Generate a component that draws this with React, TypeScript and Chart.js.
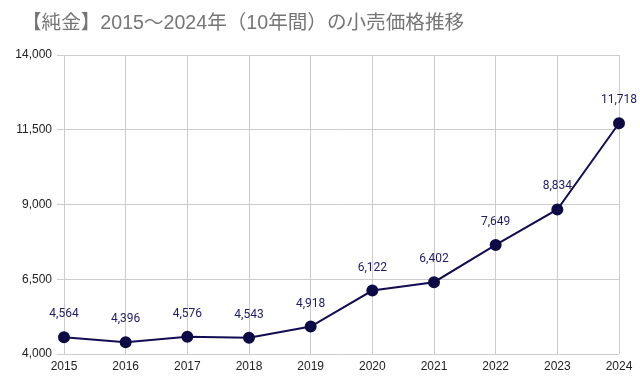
import React, { useEffect, useRef } from "react";
import { Chart, registerables } from "chart.js";

Chart.register(...registerables);

const categories = ["2015", "2016", "2017", "2018", "2019", "2020", "2021", "2022", "2023", "2024"];
const prices = [4564, 4396, 4576, 4543, 4918, 6122, 6402, 7649, 8834, 11718];
const yTicks = [4000, 6500, 9000, 11500, 14000];
const titleText = "【純金】2015～2024年（10年間）の小売価格推移";

const fmt = (v: number) => v.toLocaleString("en-US");

const labelPlugin = {
  id: "pointLabels",
  afterDatasetsDraw(chart: any) {
    const ctx = chart.ctx;
    const meta = chart.getDatasetMeta(0);
    ctx.save();
    ctx.font = "12px Roboto, 'Liberation Sans', sans-serif";
    ctx.fillStyle = "#1f1a66";
    ctx.textAlign = "center";
    ctx.textBaseline = "middle";
    meta.data.forEach((pt: any, i: number) => {
      ctx.fillText(fmt(prices[i]), pt.x, pt.y - 23);
    });
    ctx.restore();
  },
};

const titlePlugin = {
  id: "leftTitle",
  afterDraw(chart: any) {
    const ctx = chart.ctx;
    ctx.save();
    ctx.font = "19.6px 'Liberation Sans', 'Noto Sans CJK JP', sans-serif";
    ctx.fillStyle = "#757575";
    ctx.textAlign = "left";
    ctx.textBaseline = "middle";
    ctx.fillText(titleText, 22, 24);
    ctx.restore();
  },
};

export default function App() {
  const ref = useRef<HTMLCanvasElement>(null);
  useEffect(() => {
    if (!ref.current) return;
    const chart = new Chart(ref.current, {
      type: "line",
      data: {
        labels: categories,
        datasets: [
          {
            data: prices,
            borderColor: "#120d52",
            backgroundColor: "#120d52",
            borderWidth: 2,
            pointRadius: 5,
            pointBackgroundColor: "#0d0a45",
            pointBorderColor: "#0d0a45",
            tension: 0,
          },
        ],
      },
      options: {
        animation: false,
        responsive: false,
        layout: { padding: { left: 14, right: 21, top: 55, bottom: 0 } },
        plugins: {
          legend: { display: false },
          tooltip: { enabled: false },
          title: { display: false },
        },
        scales: {
          x: {
            offset: false,
            grid: { color: "#cccccc", drawTicks: false },
            border: { display: false },
            ticks: {
              color: "#222",
              font: { size: 12, family: "'Liberation Sans', Arial, sans-serif" },
              padding: 5,
              maxRotation: 0,
            },
            afterFit(scale: any) {
              scale.height = 30;
            },
          },
          y: {
            min: 4000,
            max: 14000,
            afterBuildTicks(scale: any) {
              scale.ticks = yTicks.map((v) => ({ value: v }));
            },
            grid: { color: "#cccccc", drawTicks: true, tickLength: 7 },
            border: { display: false },
            ticks: {
              color: "#222",
              font: { size: 12, family: "'Liberation Sans', Arial, sans-serif" },
              padding: 5,
              callback: (v: any) => fmt(Number(v)),
            },
            afterFit(scale: any) {
              scale.width = 50;
            },
          },
        },
      },
      plugins: [labelPlugin, titlePlugin],
    });
    return () => chart.destroy();
  }, []);
  return (
    <div style={{ position: "absolute", left: 0, top: 0, width: 640, height: 384, background: "#fff" }}>
      <canvas ref={ref} width={640} height={384} />
    </div>
  );
}
